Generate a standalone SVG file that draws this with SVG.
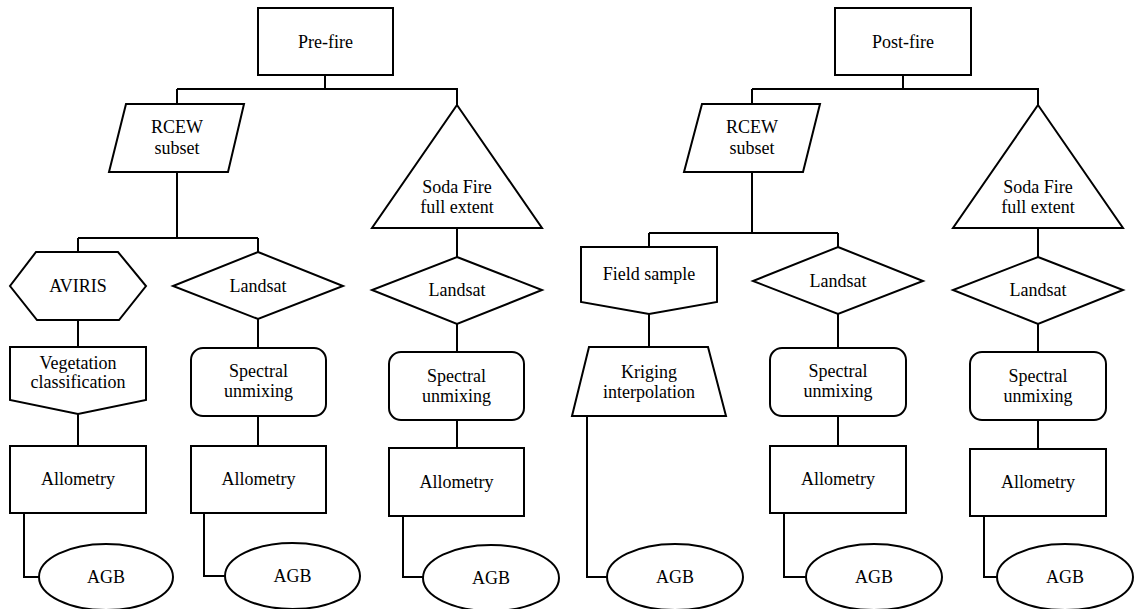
<svg xmlns="http://www.w3.org/2000/svg" width="1136" height="609" viewBox="0 0 1136 609">
<style>
.s{fill:#fff;stroke:#000;stroke-width:2;stroke-linejoin:miter}
.c{fill:none;stroke:#000;stroke-width:2}
text{font-family:"Liberation Serif","Times New Roman",serif;font-size:18px;fill:#000;text-anchor:middle}
</style>
<rect width="1136" height="609" fill="#fff"/>
<g id="connectors">
<path class="c" d="M325,75V89M177,89H457V105M177,89V104"/>
<path class="c" d="M177,172V238M78,238H258M78,238V252M258,238V252"/>
<path class="c" d="M78,320V347M78,414V446M24,513V577H39"/>
<path class="c" d="M258,319V348M258,416V446M204,513V576H225"/>
<path class="c" d="M457,228V257M457,324V352M457,420V448M403,516V577H423"/>
<path class="c" d="M903,75V89M752,89H1038V105M752,89V104"/>
<path class="c" d="M752,172V233M649,233H838M649,233V247M838,233V247"/>
<path class="c" d="M649,314V347M587,416V577H607"/>
<path class="c" d="M838,314V348M838,416V446M784,513V577H806"/>
<path class="c" d="M1038,228V257M1038,324V352M1038,420V449M984,516V577H997"/>
</g>
<g id="prefire"><rect class="s" x="258" y="8" width="135" height="67"/><text x="325.5" y="48">Pre-fire</text></g>
<g id="rcew1"><polygon class="s" points="126,104 244,104 228,172 109,172"/><text x="177" y="133">RCEW</text><text x="177" y="154">subset</text></g>
<g id="soda1"><polygon class="s" points="457,105 542,228 372,228"/><text x="457" y="193">Soda Fire</text><text x="457" y="213">full extent</text></g>
<g id="aviris"><polygon class="s" points="36,252 118,252 146,286 119,320 37,320 10,286"/><text x="78" y="292">AVIRIS</text></g>
<g id="landsat1"><polygon class="s" points="258,252 343,286 258,319 173,286"/><text x="258" y="292">Landsat</text></g>
<g id="landsat2"><polygon class="s" points="457,257 542,290 457,324 372,290"/><text x="457" y="296">Landsat</text></g>
<g id="vegclass"><polygon class="s" points="10,347 146,347 146,400 78,414 10,400"/><text x="78" y="369">Vegetation</text><text x="78" y="388">classification</text></g>
<g id="spectral1"><rect class="s" x="191" y="348" width="135" height="68" rx="12"/><text x="258.5" y="377">Spectral</text><text x="258.5" y="397">unmixing</text></g>
<g id="spectral2"><rect class="s" x="389" y="352" width="135" height="68" rx="12"/><text x="456.5" y="382">Spectral</text><text x="456.5" y="402">unmixing</text></g>
<g id="allo1"><rect class="s" x="10" y="446" width="136" height="67"/><text x="78" y="485">Allometry</text></g>
<g id="allo2"><rect class="s" x="191" y="446" width="135" height="67"/><text x="258.5" y="485">Allometry</text></g>
<g id="allo3"><rect class="s" x="389" y="448" width="135" height="68"/><text x="456.5" y="488">Allometry</text></g>
<g id="agb1"><ellipse class="s" cx="106" cy="577" rx="67" ry="33"/><text x="106" y="583">AGB</text></g>
<g id="agb2"><ellipse class="s" cx="292.5" cy="576" rx="67.5" ry="33"/><text x="292.5" y="582">AGB</text></g>
<g id="agb3"><ellipse class="s" cx="491" cy="578" rx="68" ry="33"/><text x="491" y="584">AGB</text></g>
<g id="postfire"><rect class="s" x="835" y="8" width="136" height="67"/><text x="903" y="48">Post-fire</text></g>
<g id="rcew2"><polygon class="s" points="702,104 820,104 803,172 684,172"/><text x="752" y="133">RCEW</text><text x="752" y="154">subset</text></g>
<g id="soda2"><polygon class="s" points="1038,105 1123,228 953,228"/><text x="1038" y="193">Soda Fire</text><text x="1038" y="213">full extent</text></g>
<g id="field"><polygon class="s" points="581,247 717,247 717,302 649,314 581,302"/><text x="649" y="280">Field sample</text></g>
<g id="landsat3"><polygon class="s" points="838,247 923,281 838,314 753,281"/><text x="838" y="287">Landsat</text></g>
<g id="landsat4"><polygon class="s" points="1038,257 1123,290 1038,324 953,290"/><text x="1038" y="296">Landsat</text></g>
<g id="kriging"><polygon class="s" points="589,347 708,347 726,416 572,416"/><text x="649" y="378">Kriging</text><text x="649" y="398">interpolation</text></g>
<g id="spectral3"><rect class="s" x="770" y="348" width="136" height="68" rx="12"/><text x="838" y="377">Spectral</text><text x="838" y="397">unmixing</text></g>
<g id="spectral4"><rect class="s" x="970" y="352" width="136" height="68" rx="12"/><text x="1038" y="382">Spectral</text><text x="1038" y="402">unmixing</text></g>
<g id="allo4"><rect class="s" x="770" y="446" width="136" height="67"/><text x="838" y="485">Allometry</text></g>
<g id="allo5"><rect class="s" x="970" y="449" width="136" height="67"/><text x="1038" y="488">Allometry</text></g>
<g id="agb4"><ellipse class="s" cx="675" cy="577" rx="68" ry="33"/><text x="675" y="583">AGB</text></g>
<g id="agb5"><ellipse class="s" cx="874" cy="577" rx="68" ry="33"/><text x="874" y="583">AGB</text></g>
<g id="agb6"><ellipse class="s" cx="1065" cy="577" rx="68" ry="33"/><text x="1065" y="583">AGB</text></g>
</svg>
